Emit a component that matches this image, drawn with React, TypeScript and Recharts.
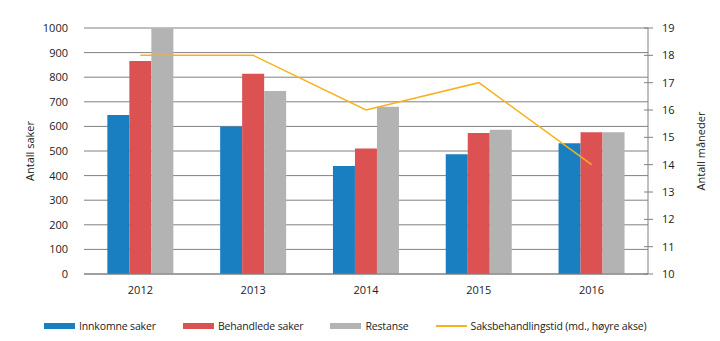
import React from 'react';
import { ComposedChart, Bar, Line, XAxis, YAxis, CartesianGrid } from 'recharts';

const years = ['2012', '2013', '2014', '2015', '2016'];
const innkomne = [646, 600, 439, 487, 531];
const behandlede = [866, 814, 510, 573, 576];
const restanse = [998, 744, 680, 586, 576];
const saksbehandlingstid = [18, 18, 16, 17, 14];

const leftTicks = [0, 100, 200, 300, 400, 500, 600, 700, 800, 900, 1000];
const rightTicks = [10, 11, 12, 13, 14, 15, 16, 17, 18, 19];

const colors = {
  blue: '#1a7fc1',
  red: '#dc5253',
  gray: '#b3b3b3',
  line: '#f6b11c',
  grid: '#808080',
  text: '#222',
};

const data = years.map((year, i) => ({
  year,
  innkomne: innkomne[i],
  behandlede: behandlede[i],
  restanse: restanse[i],
  tid: saksbehandlingstid[i],
}));

const legendItems = [
  { name: 'Innkomne saker', color: colors.blue, kind: 'bar' },
  { name: 'Behandlede saker', color: colors.red, kind: 'bar' },
  { name: 'Restanse', color: colors.gray, kind: 'bar' },
  { name: 'Saksbehandlingstid (md., høyre akse)', color: colors.line, kind: 'line' },
];

const font = '"Open Sans", sans-serif';

function RightTick(props: any) {
  const { x, y, payload } = props;
  return (
    <g>
      <line x1={x - 4} x2={x + 5} y1={y} y2={y} stroke={colors.grid} />
      <text x={x + 14} y={y} dy={4} fontSize={11} fill={colors.text} fontFamily={font}>
        {payload.value}
      </text>
    </g>
  );
}

function SideLabel({ viewBox, value, cx }: any) {
  const cy = viewBox.y + viewBox.height / 2;
  return (
    <text
      x={cx}
      y={cy}
      transform={`rotate(-90, ${cx}, ${cy})`}
      textAnchor="middle"
      dominantBaseline="central"
      fontSize={11}
      fill={colors.text}
      fontFamily={font}
    >
      {value}
    </text>
  );
}

export default function App() {
  return (
    <div style={{ position: 'relative', width: 720, height: 341, background: '#fff', fontFamily: font }}>
      <style>{'body{margin:0}'}</style>
      <ComposedChart
        width={720}
        height={341}
        data={data}
        margin={{ top: 28, right: 0, bottom: 37, left: 0 }}
        barCategoryGap="20.7%"
        barGap={0}
      >
        <CartesianGrid vertical={false} stroke={colors.grid} yAxisId="left" />
        <XAxis
          dataKey="year"
          height={30}
          axisLine={{ stroke: colors.grid }}
          tickLine={false}
          tickSize={0}
          tickMargin={12}
          tick={{ fontSize: 11, fill: colors.text, fontFamily: font }}
        />
        <YAxis
          yAxisId="left"
          width={84}
          domain={[0, 1000]}
          ticks={leftTicks}
          axisLine={false}
          tickLine={false}
          tickSize={0}
          tickMargin={16}
          tick={{ fontSize: 11, fill: colors.text, fontFamily: font }}
          label={<SideLabel value="Antall saker" cx={29} />}
        />
        <YAxis
          yAxisId="right"
          orientation="right"
          width={72}
          domain={[10, 19]}
          ticks={rightTicks}
          axisLine={{ stroke: colors.grid }}
          tickLine={false}
          tickSize={0}
          tickMargin={0}
          tick={<RightTick />}
          label={<SideLabel value="Antall måneder" cx={700} />}
        />
        <Bar yAxisId="left" dataKey="innkomne" fill={colors.blue} isAnimationActive={false} />
        <Bar yAxisId="left" dataKey="behandlede" fill={colors.red} isAnimationActive={false} />
        <Bar yAxisId="left" dataKey="restanse" fill={colors.gray} isAnimationActive={false} />
        <Line
          yAxisId="right"
          dataKey="tid"
          stroke={colors.line}
          strokeWidth={1.5}
          dot={false}
          isAnimationActive={false}
        />
      </ComposedChart>
      <div
        style={{
          position: 'absolute',
          top: 319,
          left: 44,
          display: 'flex',
          alignItems: 'center',
          fontSize: 10.5,
          letterSpacing: -0.15,
          color: colors.text,
          whiteSpace: 'nowrap',
        }}
      >
        {legendItems.map((item) => (
          <div key={item.name} style={{ display: 'flex', alignItems: 'center', marginRight: 27 }}>
            <div
              style={{
                width: 31,
                height: item.kind === 'bar' ? 6 : 2,
                background: item.color,
                marginRight: 4,
              }}
            />
            <span>{item.name}</span>
          </div>
        ))}
      </div>
    </div>
  );
}
